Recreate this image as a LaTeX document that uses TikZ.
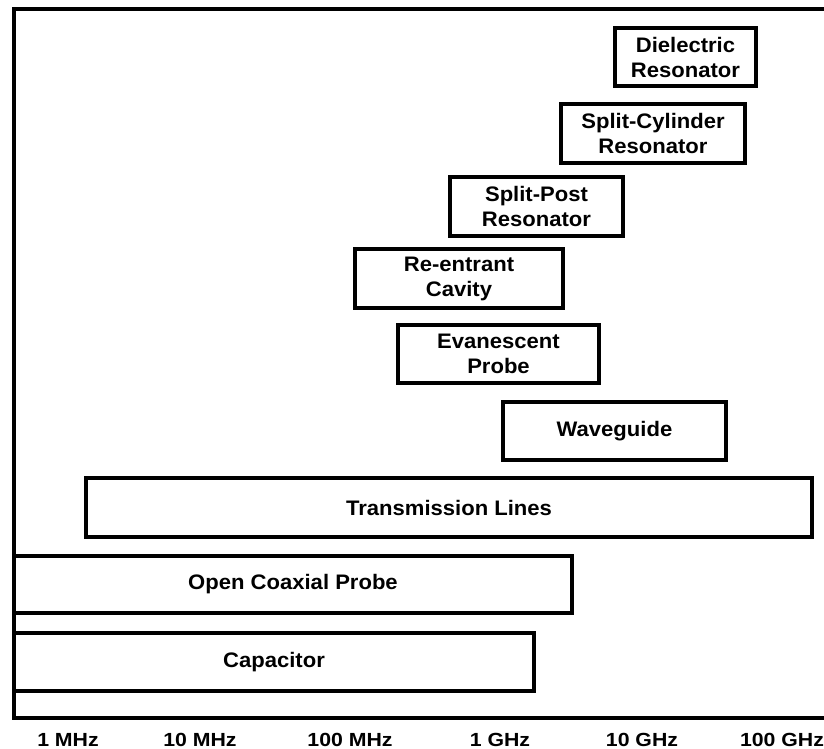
\documentclass[tikz,border=0pt]{standalone}
\usepackage{fontspec}
\setmainfont{Liberation Sans}
\newfontfamily\boxfont{Liberation Sans}[FakeStretch=1.05]
\newfontfamily\axisfont{Liberation Sans}[FakeStretch=1.12]
\usepackage{tikz}
\tikzset{
  method/.style={rectangle,draw=black,line width=3.3pt,align=center,
                 inner sep=0pt,font=\boxfont\bfseries\fontsize{21}{25}\selectfont},
  freqlabel/.style={anchor=base,inner sep=0pt,
                    font=\axisfont\bfseries\fontsize{19}{22}\selectfont},
  frame/.style={line width=3.3pt},
}
\begin{document}
\begin{tikzpicture}[x=1pt,y=-1pt]
  \useasboundingbox (0,0) rectangle (824,749);
  % frame
  \coordinate (ftr) at (824,9);
  \coordinate (fbl) at (14,718);
  \coordinate (fbr) at (824,718);
  \draw[frame] (ftr) -| (fbl) -- (fbr);

  % measurement methods
  \node[method,minimum width=141pt,minimum height=58pt] (dielec)    at (685.5,57)    {Dielectric\\Resonator};
  \node[method,minimum width=184pt,minimum height=59pt] (splitcyl)  at (653,133.5)   {Split-Cylinder\\Resonator};
  \node[method,minimum width=173pt,minimum height=59pt] (splitpost) at (536.5,206.5) {Split-Post\\Resonator};
  \node[method,minimum width=208pt,minimum height=59pt] (reentrant) at (459,278.5)   {Re-entrant\\Cavity};
  \node[method,minimum width=201pt,minimum height=58pt] (evanes)    at (498.5,354)   {Evanescent\\Probe};
  \node[method,minimum width=223pt,minimum height=58pt] (waveguide) at (614.5,431)   {Waveguide};
  \node[method,minimum width=726pt,minimum height=59pt] (trans)     at (449,507.5)   {Transmission Lines};
  \node[method,minimum width=558pt,minimum height=57pt] (coax)      at (293,584.5)   {Open Coaxial Probe};
  \node[method,minimum width=520pt,minimum height=58pt] (cap)       at (274,662)     {Capacitor};

  % frequency axis
  \node[freqlabel] (f1m)   at (68,746)  {1 MHz};
  \node[freqlabel] (f10m)  at (200,746) {10 MHz};
  \node[freqlabel] (f100m) at (350,746) {100 MHz};
  \node[freqlabel] (f1g)   at (500,746) {1 GHz};
  \node[freqlabel] (f10g)  at (642,746) {10 GHz};
  \node[freqlabel] (f100g) at (782,746) {100 GHz};
\end{tikzpicture}
\end{document}
